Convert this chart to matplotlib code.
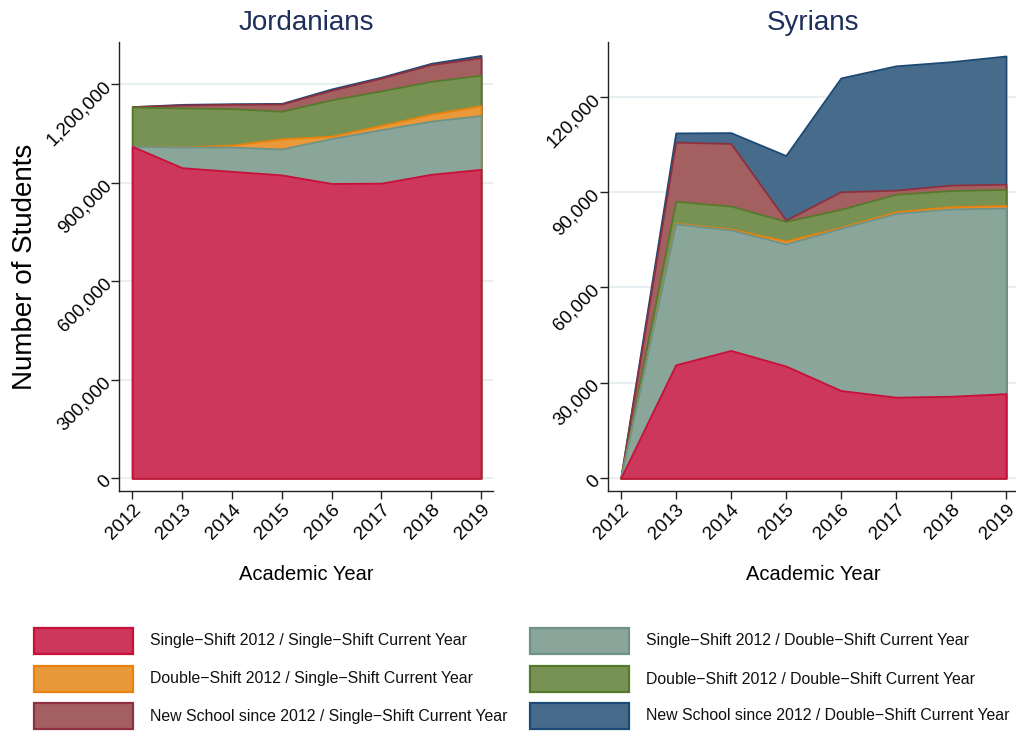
import numpy as np
import matplotlib
matplotlib.use("Agg")
import matplotlib.pyplot as plt
from matplotlib.patches import Rectangle
from matplotlib.ticker import FuncFormatter

plt.rcParams["font.family"] = ["Liberation Sans", "DejaVu Sans"]

years = [2012, 2013, 2014, 2015, 2016, 2017, 2018, 2019]

series_labels = [
    "Single\u2212Shift 2012 / Single\u2212Shift Current Year",
    "Single\u2212Shift 2012 / Double\u2212Shift Current Year",
    "Double\u2212Shift 2012 / Single\u2212Shift Current Year",
    "Double\u2212Shift 2012 / Double\u2212Shift Current Year",
    "New School since 2012 / Single\u2212Shift Current Year",
    "New School since 2012 / Double\u2212Shift Current Year",
]

# Jordanian students by school-shift transition (stacking order bottom -> top)
jor_ss_ss = [1011000, 946000, 935000, 924000, 898000, 899000, 926000, 941000]
jor_ss_ds = [0, 63000, 74000, 79000, 137000, 163000, 162000, 164000]
jor_ds_ss = [0, 0, 6000, 31000, 7000, 13000, 21000, 30000]
jor_ds_ds = [120000, 119000, 111000, 84000, 111000, 105000, 100000, 93000]
jor_new_ss = [1000, 9000, 13000, 22000, 29000, 39000, 51000, 53000]
jor_new_ds = [0, 2000, 2000, 2000, 4000, 3000, 4000, 7000]

# Syrian students by school-shift transition
syr_ss_ss = [0, 35700, 40200, 35300, 27600, 25500, 25800, 26600]
syr_ss_ds = [0, 44300, 37900, 38400, 51000, 57800, 58900, 58400]
syr_ds_ss = [0, 200, 300, 900, 300, 500, 700, 800]
syr_ds_ds = [0, 6900, 7200, 6200, 5700, 5500, 5100, 5000]
syr_new_ss = [0, 18600, 19700, 400, 5500, 1300, 1700, 1700]
syr_new_ds = [0, 2900, 3400, 20300, 35800, 39100, 38800, 40300]

fill_colors = ["#cc375b", "#8aa59a", "#ea993a", "#789254", "#a45f60", "#476b8b"]
edge_colors = ["#c8103a", "#6f9287", "#e8820c", "#557a2c", "#8d3040", "#1d4a75"]

title_color = "#1f2f5c"
grid_color = "#e6eef1"

fig = plt.figure(figsize=(10.16, 7.31), dpi=100)
W, H = 1016.0, 731.0


def px_axes(x0, y0, x1, y1):
    return fig.add_axes([x0 / W, 1 - y1 / H, (x1 - x0) / W, (y1 - y0) / H])


def draw_panel(ax, layers, title, ylim, yticks, xlim):
    cum = np.cumsum(np.array(layers, dtype=float), axis=0)
    # largest cumulative area first, smaller ones drawn over it
    for i in range(len(layers) - 1, -1, -1):
        ax.fill_between(years, 0, cum[i], facecolor=fill_colors[i],
                        edgecolor=edge_colors[i], linewidth=1.3,
                        zorder=2 + (len(layers) - i) * 0.1)
    ax.set_xlim(*xlim)
    ax.set_ylim(*ylim)
    ax.set_xticks(years)
    ax.set_yticks(yticks)
    ax.yaxis.set_major_formatter(FuncFormatter(lambda v, p: f"{int(round(v)):,}"))
    ax.grid(axis="y", color=grid_color, linewidth=1.3, zorder=0)
    ax.set_axisbelow(True)
    for s in ("top", "right"):
        ax.spines[s].set_visible(False)
    for s in ("left", "bottom"):
        ax.spines[s].set_color("#222222")
        ax.spines[s].set_linewidth(1.0)
    ax.tick_params(axis="both", direction="out", length=6, width=1.0,
                   color="#222222", labelsize=13.5, pad=1.5)
    for lab in ax.get_xticklabels():
        lab.set_rotation(45)
        lab.set_ha("right")
        lab.set_va("top")
        lab.set_rotation_mode("anchor")
    for lab in ax.get_yticklabels():
        lab.set_rotation(45)
        lab.set_ha("right")
        lab.set_va("center")
        lab.set_rotation_mode("anchor")
    ax.set_title(title, fontsize=20, color=title_color, pad=9)
    ax.set_xlabel("Academic Year", fontsize=14.5, labelpad=16)


ax1 = px_axes(119.3, 42.3, 493.0, 491.0)
draw_panel(ax1,
           [jor_ss_ss, jor_ss_ds, jor_ds_ss, jor_ds_ds, jor_new_ss, jor_new_ds],
           "Jordanians", (-38700, 1328000),
           [0, 300000, 600000, 900000, 1200000], (2011.739, 2019.241))
ax1.set_ylabel("Number of Students", fontsize=20)
ax1.yaxis.set_label_coords((38 - 119.3) / (493.0 - 119.3), 0.5)

ax2 = px_axes(607.7, 42.3, 1019.0, 491.0)
draw_panel(ax2,
           [syr_ss_ss, syr_ss_ds, syr_ds_ss, syr_ds_ds, syr_new_ss, syr_new_ds],
           "Syrians", (-4000, 137100),
           [0, 30000, 60000, 90000, 120000], (2011.764, 2019.236))

# legend in two columns, three rows
leg = fig.add_axes([0, 0, 1, 1], zorder=-1)
leg.set_xlim(0, W)
leg.set_ylim(H, 0)
leg.axis("off")
row_y = [641, 679, 716]
col_x = [34, 530]
order = [(0, 0, 0), (1, 0, 1), (2, 1, 0), (3, 1, 1), (4, 2, 0), (5, 2, 1)]
for idx, r, c in order:
    x0 = col_x[c]
    y0 = row_y[r] - 13
    leg.add_patch(Rectangle((x0, y0), 99, 26, facecolor=fill_colors[idx],
                            edgecolor=edge_colors[idx], linewidth=1.6))
    leg.text(x0 + 116, row_y[r], series_labels[idx], fontsize=11.4,
             ha="left", va="center", color="#111111")

fig.savefig("out.png", dpi=100)
